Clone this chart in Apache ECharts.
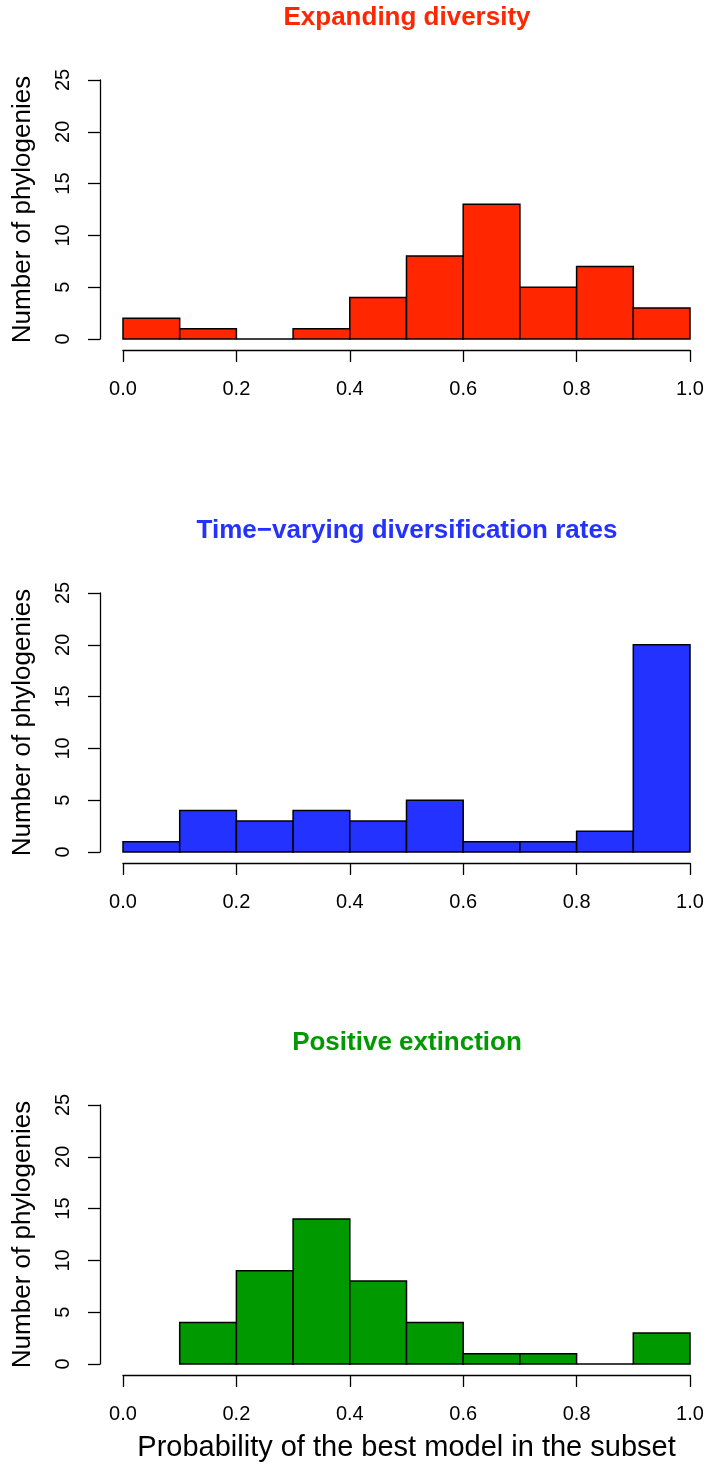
<!DOCTYPE html>
<html>
<head>
<meta charset="utf-8">
<script src="https://cdn.jsdelivr.net/npm/echarts@6/dist/echarts.min.js"></script>
<style>
html,body{margin:0;padding:0;background:#fff;}
#c{width:707px;height:1466px;}
</style>
</head>
<body>
<div id="c"></div>
<script>
// ---- data ----
const breaks = [0.0, 0.1, 0.2, 0.3, 0.4, 0.5, 0.6, 0.7, 0.8, 0.9, 1.0];
const titles = ["Expanding diversity", "Time\u2212varying diversification rates", "Positive extinction"];
const countsExpanding = [2, 1, 0, 1, 4, 8, 13, 5, 7, 3];
const countsTimeVarying = [1, 4, 3, 4, 3, 5, 1, 1, 2, 20];
const countsPositiveExt = [null, 4, 9, 14, 8, 4, 1, 1, 0, 3];
const xTicks = [0.0, 0.2, 0.4, 0.6, 0.8, 1.0];
const yTicks = [0, 5, 10, 15, 20, 25];
const yTitle = "Number of phylogenies";
const xTitle = "Probability of the best model in the subset";

const panelCounts = [countsExpanding, countsTimeVarying, countsPositiveExt];
const fillColors = ['#FF2600', '#2432FF', '#009A00'];
const titleColors = ['#FF2600', '#2432FF', '#009A00'];

const FONT = '"Liberation Sans", Arial, Helvetica, sans-serif';
const panelTop = [80, 593, 1105];
const plotH = 259;
const plotLeft = 123, plotRight = 17;

const grids = [], xAxes = [], yAxes = [], series = [], graphics = [];
panelTop.forEach((top, i) => {
  grids.push({left: plotLeft, right: plotRight, top: top, height: plotH, containLabel: false});
  xAxes.push({
    type: 'value', gridIndex: i, min: xTicks[0], max: xTicks[xTicks.length - 1], interval: 0.2,
    offset: 11,
    axisLine: {show: true, onZero: false, lineStyle: {color: '#000', width: 1.3}},
    axisTick: {show: true, length: 12, lineStyle: {color: '#000', width: 1.3}},
    axisLabel: {color: '#000', fontSize: 20, fontFamily: FONT, margin: 29,
      formatter: v => v.toFixed(1), showMinLabel: true, showMaxLabel: true},
    splitLine: {show: false},
    name: i === 2 ? xTitle : '', nameLocation: 'middle', nameGap: 58,
    nameTextStyle: {color: '#000', fontSize: 29, fontFamily: FONT}
  });
  yAxes.push({
    type: 'value', gridIndex: i, min: yTicks[0], max: yTicks[yTicks.length - 1], interval: 5,
    offset: 23,
    axisLine: {show: true, onZero: false, lineStyle: {color: '#000', width: 1.3}},
    axisTick: {show: true, length: 12, lineStyle: {color: '#000', width: 1.3}},
    axisLabel: {color: '#000', fontSize: 20, fontFamily: FONT, rotate: 90, margin: 27,
      showMinLabel: true, showMaxLabel: true},
    splitLine: {show: false},
    name: yTitle, nameLocation: 'middle', nameGap: 64,
    nameTextStyle: {color: '#000', fontSize: 26, fontFamily: FONT}
  });
  const data = [];
  panelCounts[i].forEach((c, k) => {
    if (c !== null) data.push([breaks[k], breaks[k + 1], c]);
  });
  const col = fillColors[i];
  series.push({
    type: 'custom', xAxisIndex: i, yAxisIndex: i, data: data,
    encode: {x: [0, 1], y: 2},
    clip: false,
    renderItem: function (params, api) {
      const p0 = api.coord([api.value(0), 0]);
      const p1 = api.coord([api.value(1), api.value(2)]);
      return {
        type: 'rect',
        shape: {x: p0[0], y: p1[1], width: p1[0] - p0[0], height: p0[1] - p1[1]},
        style: {fill: col, stroke: '#000', lineWidth: 1.5}
      };
    }
  });
  graphics.push({
    type: 'text', x: 407, y: top - 62,
    style: {text: titles[i], fill: titleColors[i], font: 'bold 26px ' + FONT,
      textAlign: 'center', textVerticalAlign: 'middle'}
  });
});

const chart = echarts.init(document.getElementById('c'), null, {renderer: 'canvas'});
chart.setOption({
  animation: false,
  backgroundColor: '#fff',
  grid: grids, xAxis: xAxes, yAxis: yAxes, series: series,
  graphic: graphics
});
</script>
</body>
</html>
